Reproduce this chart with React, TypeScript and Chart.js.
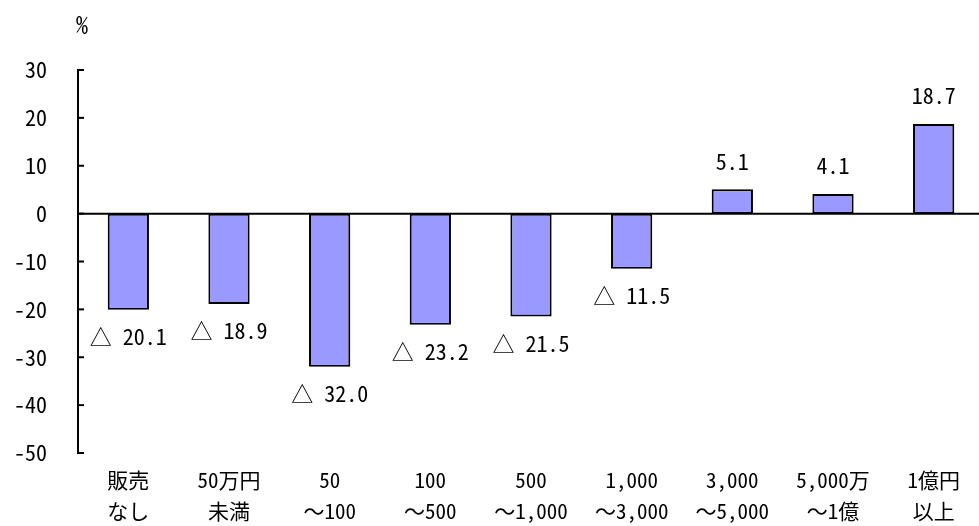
import React, { useEffect, useRef } from "react";
import { Chart, registerables } from "chart.js";

Chart.register(...registerables);

// 販売金額規模別の増減率（%）
const categories: string[][] = [
  ["販売", "なし"],
  ["50万円", "未満"],
  ["50", "～100"],
  ["100", "～500"],
  ["500", "～1,000"],
  ["1,000", "～3,000"],
  ["3,000", "～5,000"],
  ["5,000万", "～1億"],
  ["1億円", "以上"],
];
const changeRates: number[] = [-20.1, -18.9, -32.0, -23.2, -21.5, -11.5, 5.1, 4.1, 18.7];
const yMin = -50;
const yMax = 30;
const yStep = 10;
const unitLabel = "%";

const FONT = '"Noto Sans Mono CJK JP", "DejaVu Sans Mono", "Noto Sans CJK JP", monospace';

const formatRate = (v: number) => (v < 0 ? "△ " + Math.abs(v).toFixed(1) : v.toFixed(1));

// 値ラベル・単位・内向き目盛り
const decorations = {
  id: "decorations",
  afterDatasetsDraw(chart: any) {
    const ctx = chart.ctx;
    const yScale = chart.scales.y;
    const area = chart.chartArea;
    ctx.save();
    // zero line
    const y0 = yScale.getPixelForValue(0);
    ctx.strokeStyle = "#000";
    ctx.lineWidth = 2;
    ctx.beginPath();
    ctx.moveTo(area.left, y0);
    ctx.lineTo(area.right, y0);
    ctx.stroke();
    // inward tick marks on the y axis
    for (let v = yMin; v <= yMax; v += yStep) {
      const y = yScale.getPixelForValue(v);
      ctx.beginPath();
      ctx.moveTo(area.left, y);
      ctx.lineTo(area.left + 6, y);
      ctx.stroke();
    }
    // value labels
    ctx.fillStyle = "#000";
    ctx.font = "22px " + FONT;
    ctx.textAlign = "center";
    ctx.textBaseline = "middle";
    const meta = chart.getDatasetMeta(0);
    meta.data.forEach((bar: any, i: number) => {
      const v = changeRates[i];
      const y = v < 0 ? bar.y + 27 : bar.y - 28;
      ctx.fillText(formatRate(v), bar.x, y);
    });
    // unit
    ctx.font = "24px " + FONT;
    ctx.fillText(unitLabel, 82, 25);
    ctx.restore();
  },
};

export default function App() {
  const canvasRef = useRef<HTMLCanvasElement | null>(null);

  useEffect(() => {
    if (!canvasRef.current) return;
    const chart = new Chart(canvasRef.current, {
      type: "bar",
      data: {
        labels: categories,
        datasets: [
          {
            data: changeRates,
            backgroundColor: "#9999ff",
            borderColor: "#000",
            borderWidth: 2,
            borderSkipped: false,
            categoryPercentage: 1,
            barPercentage: 0.41,
          },
        ],
      },
      options: {
        responsive: false,
        animation: false,
        layout: { padding: { top: 70, right: 0, bottom: 0, left: 0 } },
        plugins: { legend: { display: false }, tooltip: { enabled: false } },
        scales: {
          x: {
            grid: { display: false, drawTicks: false },
            border: { display: false },
            ticks: {
              color: "#000",
              font: { family: FONT, size: 21, lineHeight: 1.45 },
              maxRotation: 0,
              autoSkip: false,
              padding: 12,
            },
            afterFit(scale: any) {
              scale.height = 73;
            },
          },
          y: {
            min: yMin,
            max: yMax,
            grid: { display: false, drawTicks: false },
            border: { display: true, color: "#000", width: 2 },
            ticks: {
              stepSize: yStep,
              color: "#000",
              font: { family: FONT, size: 22 },
              padding: 31,
            },
            afterFit(scale: any) {
              scale.width = 78;
            },
          },
        },
      },
      plugins: [decorations],
    });
    return () => chart.destroy();
  }, []);

  return (
    <div style={{ position: "fixed", left: 0, top: 0, width: 979, height: 526, overflow: "hidden", background: "#fff" }}>
      <canvas ref={canvasRef} width={984} height={526} style={{ display: "block" }} />
    </div>
  );
}
